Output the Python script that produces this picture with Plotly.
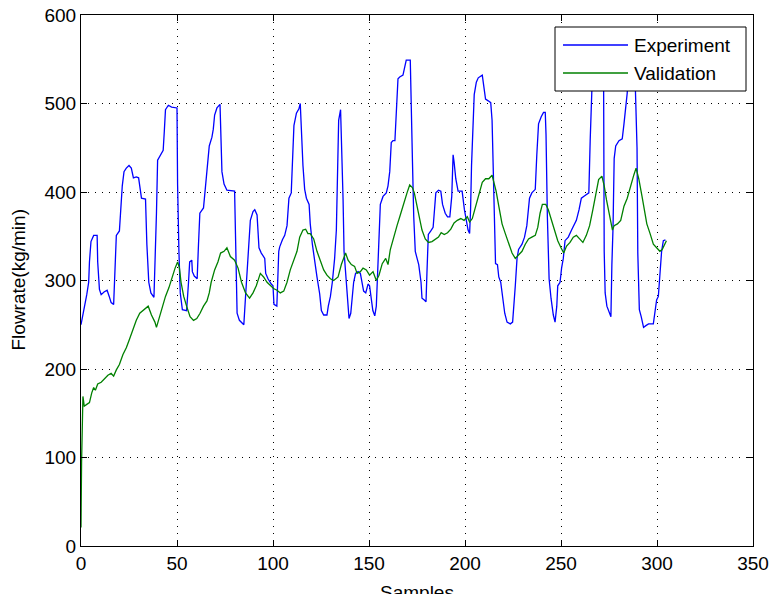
import plotly.graph_objects as go

# Measured flowrate (kg/min) at each sample index
exp_x = [0, 1.2, 2, 3, 4, 4.4, 5.2, 6.6, 8.4, 8.7, 9.6, 10.5, 12, 13.6, 14.7, 15.7, 17, 17.8, 18.4, 20,
         20.6, 21.5, 22.4, 23.6, 25, 26.2, 27.3, 28.8, 30, 30.8, 31.5, 33.6, 34.3, 35.3, 36.4, 38, 38.5, 39.3,
         39.9, 41.6, 42.8, 43.4, 44, 45.5, 47.2, 50, 50.3, 51, 51.7, 52.8, 55, 56, 56.6, 57.7, 58, 59, 60.5,
         61.2, 61.9, 63.8, 64.7, 66, 66.8, 68.2, 68.9, 69.6, 70.8, 72.4, 72.9, 73.4, 74.5, 76, 80, 80.8, 81.3,
         82.5, 84.8, 85.7, 86.7, 87.5, 88.2, 89.6, 90.5, 91.7, 92.7, 93.9, 95.7, 96.2, 97.4, 99.1, 100, 100.5,
         102, 103, 103.5, 104.9, 106.1, 107.3, 108.3, 109.5, 110.4, 110.9, 112.2, 113.5, 114.2, 114.8, 115.6,
         116.5, 117.4, 118.8, 119.4, 120.5, 121.7, 122.9, 124.3, 125.2, 126.4, 128.1, 128.8, 129.9, 130.9,
         132.1, 133, 133.5, 134.2, 135.2, 135.8, 136.5, 137, 137.8, 138.7, 139.6, 140.5, 141.3, 142, 143,
         144.3, 145.5, 146.5, 147.2, 148.3, 149.5, 150.3, 151.2, 152, 153, 153.8, 154.3, 155.2, 155.9, 157.3,
         159, 159.9, 160.8, 161.6, 162.5, 163.5, 164.2, 165.1, 166, 167.7, 168.6, 169.4, 171.5, 172, 172.6,
         173.3, 174.1, 174.8, 175.9, 177.1, 177.6, 178.8, 179.7, 180.2, 180.9, 182.2, 183.4, 183.9, 184.8,
         186.2, 187.4, 188.3, 189.7, 190.9, 192.1, 193.1, 193.8, 194.3, 195.2, 196.4, 198.5, 199.7, 200.7,
         201.6, 202.4, 202.9, 203.4, 204.1, 204.8, 205.9, 206.9, 209, 209.7, 210.7, 212.1, 213.4, 214.1,
         214.7, 215.2, 215.9, 216.9, 217.6, 218.6, 219.7, 220.7, 221.9, 223.6, 224.8, 225.5, 226.2, 227.1,
         227.9, 229.7, 231, 232.2, 233.6, 234.8, 236.6, 237.4, 238.3, 239.7, 240.9, 241.8, 242.2, 242.9,
         243.8, 244.8, 246, 246.9, 247.8, 248.3, 249.5, 250.3, 251.2, 252.1, 253.8, 255.5, 257.2, 258, 259.4,
         260.6, 261.8, 263.2, 264.5, 265.2, 265.9, 267, 271, 272.2, 272.5, 273, 273.9, 275.1, 276, 276.5,
         277.1, 277.7, 278.5, 280.2, 281.9, 282.8, 283.6, 284.5, 285.5, 288, 288.7, 289.6, 290, 290.8, 291.8,
         293, 294.2, 295.6, 298.1, 299, 299.8, 300.7, 301.5, 302.4, 303.3, 304.4]
exp_y = [250, 263, 276, 284, 298, 321, 344, 351, 351, 321, 290, 284, 287, 289, 282, 275, 273, 317, 351, 356,
         376, 407, 423, 427, 430, 427, 416, 417, 416, 403, 393, 392, 341, 298, 286, 281, 333, 376,
         436, 442, 447, 469, 493, 498, 496, 495, 409, 333, 286, 267, 266, 298, 321, 323, 310, 305, 302,
         341, 376, 382, 403, 438, 452, 462, 471, 487, 495, 499, 462, 423, 409, 402, 401, 333, 263,
         255, 250, 282, 321, 341, 368, 378, 380, 374, 337, 331, 325, 308, 302, 296, 294, 273,
         271, 333, 338, 346, 351, 362, 393, 399, 442, 475, 489, 494, 500, 469, 430,
         403, 393, 386, 364, 341, 321, 304, 285, 266, 261, 261, 271, 282, 298,
         325, 357, 399, 481, 493, 450, 391, 333, 310, 277, 257, 263, 282, 298, 308,
         310, 308, 298, 288, 286, 296, 294, 282, 266, 260, 271, 298, 341, 386, 395,
         399, 407, 423, 456, 458, 458, 487, 528, 530, 532, 541, 549, 549, 479, 438,
         372, 333, 327, 318, 298, 280, 278, 276, 310, 352, 356, 360, 374, 399,
         402, 401, 386, 376, 372, 372, 395, 442, 434, 415, 401, 401, 380, 368,
         357, 353, 380, 430, 469, 510, 524, 529, 532, 520, 505, 503, 501, 481,
         427, 357, 319, 318, 304, 298, 280, 263, 253, 251, 253, 271, 294, 325,
         335, 341, 349, 362, 393, 399, 403, 442, 477, 485, 490, 490, 465, 372,
         302, 280, 261, 253, 271, 294, 298, 314, 325, 345, 349, 357, 364, 368, 380,
         393, 395, 397, 399, 458, 512, 575, 580, 520, 333, 286, 271, 263, 259, 318,
         360, 438, 452, 458, 460, 477, 493, 512, 560, 570, 520, 450, 331, 267, 259,
         247, 249, 251, 251, 266, 278, 282, 302, 333, 345, 346]

# Model output used for validation
val_x = [0, 0.3, 1, 1.7, 3, 4.4, 5.6, 6.6, 7.5, 8.7, 10.5, 12.2, 14, 15.7, 17, 18.4, 20, 21.8, 23.6, 25.3,
         27.1, 28.8, 30.6, 32.3, 34, 35, 36.7, 38.5, 39.3, 40.6, 42.3, 44, 45.8, 47.6, 49, 50.3, 51.2, 52.1,
         53.5, 55, 56.8, 58.6, 60.3, 62, 63.8, 65.6, 66.8, 67.8, 69.6, 71.3, 72.7, 74.5, 76, 77.8, 80, 81.8,
         83.6, 85.7, 87.8, 89.6, 91.3, 93.4, 95.1, 96.9, 98.6, 100.3, 102.1, 103.8, 105.6, 107.3, 109,
         110.8, 112.5, 113.9, 115.6, 117, 118.2, 119.4, 121.2, 122.9, 124.7, 126.4, 128.1, 129.9, 131.6,
         133.9, 135.6, 137.8, 139.1, 140.8, 142.5, 143.8, 145.5, 146.9, 148.6, 150.3, 152.1, 153.8, 155.2,
         156.9, 158.7, 159.9, 161.1, 162.8, 164.6, 166.3, 168.1, 169.8, 171.2, 172.6, 173.6, 174.8, 176.2,
         177.6, 179.3, 181, 182.8, 184.5, 186.2, 187.6, 189.2, 190.9, 192.6, 194.3, 196, 197.8, 199.5,
         201.2, 202.4, 203.8, 205.5, 207.2, 209, 210.7, 212.4, 214.1, 215, 216.2, 217.6, 219.3, 221, 222.8,
         224.5, 226.2, 227.9, 229.7, 231.4, 233.1, 234.8, 236.6, 237.9, 239.1, 240.3, 242.1, 243.4, 244.8,
         246.6, 248.3, 250, 251.4, 252.9, 254.7, 256.4, 258, 259.7, 261.4, 263.2, 264.9, 266.6, 268.3,
         269.6, 271.3, 272.5, 273.7, 275.1, 276.8, 277.7, 279.4, 281.1, 282.8, 284.5, 286.2, 287.9, 289.1,
         290.5, 292.2, 293.5, 294.7, 296.4, 298.1, 299.8, 301.5, 302.7, 303.8, 304.9]
val_y = [21, 95, 169, 158, 160, 162, 173, 179, 176, 183, 185, 189, 193, 195, 192, 199, 205, 216, 224, 234,
         245, 255, 263, 266, 269, 271, 261, 253, 247, 257, 271, 282, 292, 306, 314, 321, 315, 298,
         282, 271, 259, 255, 257, 263, 271, 277, 286, 298, 312, 321, 331, 333, 337, 327, 323, 314,
         298, 286, 280, 286, 294, 308, 304, 298, 294, 291, 289, 286, 288, 298, 312,
         323, 333, 349, 357, 358, 353, 353, 347, 333, 321, 312, 306, 302, 300,
         304, 318, 331, 323, 318, 316, 308, 310, 314, 312, 306, 310, 300, 306,
         319, 325, 318, 335, 349, 362, 374, 388, 399, 408, 405, 399, 386, 368,
         357, 347, 343, 344, 347, 349, 354, 352, 354, 358, 365, 368, 370, 368,
         372, 366, 370, 384, 399, 411, 415, 415, 419, 411, 401, 384, 364, 353, 341,
         331, 325, 329, 333, 341, 347, 349, 351, 360, 376, 386, 386, 380, 370,
         357, 345, 337, 331, 339, 343, 349, 351, 347, 343, 351, 362, 380, 399,
         414, 418, 407, 391, 376, 357, 362, 364, 368, 384, 393, 407, 419, 427,
         415, 395, 376, 364, 353, 341, 337, 333, 335, 341, 345]

series_names = ["Experiment", "Validation"]
series_colors = ["#0000FF", "#008000"]

x_ticks = [0, 50, 100, 150, 200, 250, 300, 350]
y_ticks = [0, 100, 200, 300, 400, 500, 600]

FONT = "Liberation Sans, Arial, sans-serif"

fig = go.Figure()
fig.add_trace(go.Scatter(x=exp_x, y=exp_y, mode="lines", name=series_names[0],
                         line=dict(color=series_colors[0], width=1.3), showlegend=False))
fig.add_trace(go.Scatter(x=val_x, y=val_y, mode="lines", name=series_names[1],
                         line=dict(color=series_colors[1], width=1.3), showlegend=False))

axis_common = dict(
    showline=True, linecolor="black", linewidth=1, mirror="ticks",
    ticks="inside", ticklen=6, tickcolor="black", tickwidth=1,
    showgrid=True, gridcolor="black", gridwidth=1, griddash="1px,6px",
    zeroline=False, automargin=False,
    tickfont=dict(family=FONT, size=19, color="black"),
)
fig.update_xaxes(range=[0, 350], tickvals=x_ticks, ticktext=[str(v) for v in x_ticks], **axis_common)
fig.update_yaxes(range=[0, 600], tickvals=y_ticks, ticktext=[str(v) for v in y_ticks], **axis_common)

# Legend box drawn in the upper right corner, over the data
W, H = 672.0, 531.0
def px(xp):
    return (xp - 81) / W
def py(yp):
    return (546 - yp) / H

fig.add_shape(type="rect", xref="paper", yref="paper", x0=px(555), x1=px(746), y0=py(91), y1=py(27),
              fillcolor="white", line=dict(color="black", width=1), layer="above")
for i, (nm, col) in enumerate(zip(series_names, series_colors)):
    yy = 45 + 28 * i
    fig.add_shape(type="line", xref="paper", yref="paper", x0=px(563), x1=px(628), y0=py(yy), y1=py(yy),
                  line=dict(color=col, width=1.3), layer="above")
    fig.add_annotation(xref="paper", yref="paper", x=px(632), y=py(yy), text=nm, showarrow=False,
                       xanchor="left", yanchor="middle", font=dict(family=FONT, size=19, color="black"))

fig.add_annotation(xref="paper", yref="paper", x=0.5, y=py(592), text="Samples", showarrow=False,
                   xanchor="center", yanchor="middle", font=dict(family=FONT, size=19, color="black"))
fig.add_annotation(xref="paper", yref="paper", x=px(18), y=0.5, text="Flowrate(kg/min)", showarrow=False,
                   textangle=-90, xanchor="center", yanchor="middle",
                   font=dict(family=FONT, size=19, color="black"))

fig.update_layout(
    width=771, height=594,
    margin=dict(l=81, r=18, t=15, b=48, autoexpand=False),
    paper_bgcolor="white", plot_bgcolor="white",
    showlegend=False,
)

fig.write_html("out.html")
